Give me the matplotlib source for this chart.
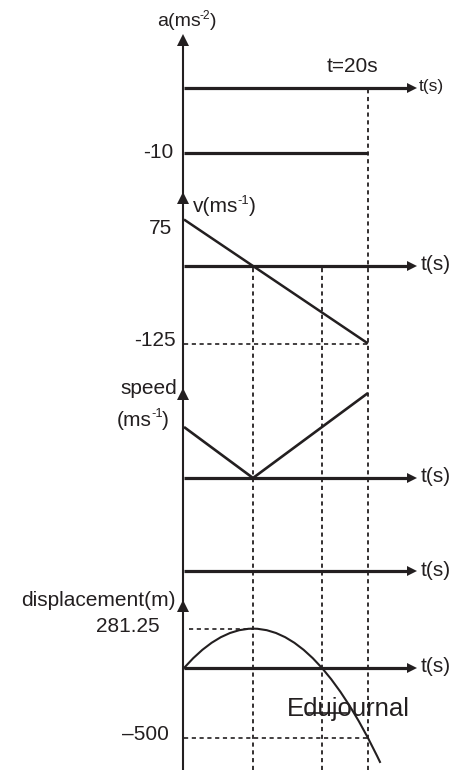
import matplotlib
matplotlib.use("Agg")
import matplotlib.pyplot as plt

# ---------------- data ----------------
t_final = 20.0
acc_t = [0, 20]
acc_val = [-10, -10]

vel_t = [0, 20]
vel_val = [75, -125]

speed_t = [0, 7.5, 20]
speed_val = [75, 0, 125]

disp_t = [0, 1, 2, 3, 4, 5, 6, 7, 7.5, 8, 9, 10, 11, 12, 13, 14, 15, 16, 17, 18, 19, 20, 21, 21.3]
disp_val = [0, 70, 130, 180, 220, 250, 270, 280, 281.25, 280, 270, 250, 220, 180, 130, 70, 0,
            -80, -170, -270, -380, -500, -630, -671]

t_stop = 7.5      # velocity zero / max displacement
t_return = 15     # displacement back to zero
disp_max = 281.25
disp_end = -500
vel_end = -125

# ---------------- layout ----------------
W, H = 453, 770
DPI = 100
O = 184.0        # pixel x of t=0
K = 9.2          # pixels per second
INK = "#231f20"
FONT = ["Liberation Sans", "DejaVu Sans"]
plt.rcParams["font.family"] = FONT
plt.rcParams["lines.scale_dashes"] = False
DASH = (3.0, 2.6)

fig = plt.figure(figsize=(W / DPI, H / DPI), dpi=DPI)
fig.patch.set_facecolor("white")
renderer = fig.canvas.get_renderer()

# pixel overlay for structure and text
ov = fig.add_axes([0, 0, 1, 1])
ov.set_xlim(0, W)
ov.set_ylim(H, 0)
ov.set_axis_off()
ov.patch.set_alpha(0)

def panel(p0, scale):
    ax = fig.add_axes([0, 0, 1, 1])
    ax.set_xlim(-O / K, (W - O) / K)
    ax.set_ylim(-(H - p0) / scale, p0 / scale)
    ax.set_axis_off()
    ax.patch.set_alpha(0)
    return ax

T_AX_END = (410 - O) / K
T_HEAD = (412 - O) / K

def t_axis(ax):
    ax.plot([0, T_AX_END], [0, 0], color=INK, lw=2.3, solid_capstyle="butt", clip_on=False)
    ax.plot([T_HEAD], [0], marker=">", ms=7.5, color=INK, mec=INK, mew=0, clip_on=False)

ax_a = panel(88, 6.5)
ax_v = panel(266, 0.62)
ax_s = panel(478, 0.68)
ax_e = panel(571, 1.0)
ax_d = panel(668, 0.14)

for ax in (ax_a, ax_v, ax_s, ax_e, ax_d):
    t_axis(ax)

# vertical main axis with arrowheads
ov.plot([183, 183], [40, H], color=INK, lw=1.5, solid_capstyle="butt")
for tip in (34, 192, 388, 600):
    ov.plot([183], [tip + 5.9], marker="^", ms=8.5, color=INK, mew=0)

# dashed verticals (data x)
def vdash(t, top_px):
    ax_a.axvline(t, ymin=0, ymax=1 - top_px / H, color=INK, lw=1.3,
                 linestyle=(0, DASH), clip_on=False)

vdash(t_final, 90)
vdash(t_stop, 268)
vdash(t_return, 268)

# acceleration
ax_a.plot(acc_t, acc_val, color=INK, lw=2.3, solid_capstyle="butt")

# velocity
ax_v.plot(vel_t, vel_val, color=INK, lw=1.8, solid_capstyle="butt")
ax_v.plot([0, t_final], [vel_end, vel_end], color=INK, lw=1.2, linestyle=(0, DASH))

# speed
ax_s.plot(speed_t, speed_val, color=INK, lw=1.9, solid_capstyle="butt", solid_joinstyle="miter")

# displacement
ax_d.plot(disp_t, disp_val, color=INK, lw=1.5, clip_on=False)
ax_d.plot([0.5, t_stop], [disp_max, disp_max], color=INK, lw=1.2, linestyle=(0, DASH))
ax_d.plot([0, t_final], [disp_end, disp_end], color=INK, lw=1.2, linestyle=(0, DASH))

# ---------------- text ----------------
def txt(x, y, s, size=15, ha="left"):
    return ov.text(x, y, s, fontsize=size, ha=ha, va="center", color=INK, family=FONT)

def width_px(t):
    return t.get_window_extent(renderer=renderer).width

def sup_label(x, y, base, sup, close, size=15):
    t1 = txt(x, y, base, size)
    x2 = x + width_px(t1) - 1.0
    t2 = txt(x2, y - size * 0.42, sup, size * 0.62)
    x3 = x2 + width_px(t2) - 0.5
    txt(x3, y, close, size)

sup_label(157, 22, "a(ms", "-2", ")", 14)
txt(352, 67, "t=20s", 15, ha="center")
txt(419, 87, "t(s)", 12.5)
txt(173, 153, "-10", 15, ha="right")
sup_label(193, 207, "v(ms", "-1", ")", 15)
txt(172, 229, "75", 15, ha="right")
txt(421, 264, "t(s)", 15)
txt(176, 341, "-125", 15, ha="right")
txt(177, 388, "speed", 15, ha="right")
sup_label(117, 420, "(ms", "-1", ")", 15)
txt(421, 476, "t(s)", 15)
txt(421, 570, "t(s)", 15)
txt(176, 600, "displacement(m)", 15, ha="right")
txt(160, 626, "281.25", 15, ha="right")
txt(421, 666, "t(s)", 15)
txt(169, 735, "–500", 15, ha="right")
txt(287, 709, "Edujournal", 18.5)
ov.plot([308, 347], [712.5, 712.5], color=INK, lw=1.2)

fig.savefig("out.png", dpi=DPI, facecolor="white")
